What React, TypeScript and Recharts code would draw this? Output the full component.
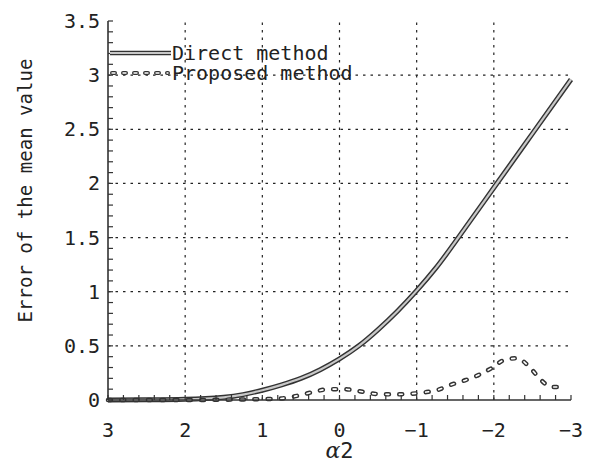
import React from 'react';
import { LineChart, Line, XAxis, YAxis, ReferenceLine, Legend } from 'recharts';

const xMajorTicks = [3, 2, 1, 0, -1, -2, -3];
const yMajorTicks = [0, 0.5, 1, 1.5, 2, 2.5, 3, 3.5];
const xGridValues = [2, 1, 0, -1, -2];
const yGridValues = [0.5, 1, 1.5, 2, 2.5, 3];
const xMinorTicks = Array.from({ length: 31 }, (_, i) => Math.round((-3 + i * 0.2) * 10) / 10);
const yMinorTicks = Array.from({ length: 36 }, (_, i) => i / 10);

const seriesNames = ['Direct method', 'Proposed method'];

const directX = [3, 2.5, 2, 1.5, 1.25, 1, 0.75, 0.5, 0.25, 0, -0.25, -0.5, -0.75, -1, -1.25, -1.5, -2, -2.5, -3];
const directY = [0, 0.002, 0.006, 0.025, 0.05, 0.09, 0.14, 0.2, 0.28, 0.38, 0.5, 0.65, 0.82, 1.01, 1.22, 1.46, 1.96, 2.46, 2.96];

const proposedX = [3, 2.5, 2, 1.5, 1.15, 0.97, 0.8, 0.64, 0.48, 0.31, 0.13, -0.05, -0.23, -0.42, -0.6, -0.75, -0.92, -1.09, -1.26, -1.44, -1.64, -1.8, -1.96, -2.14, -2.3, -2.48, -2.61, -2.75, -2.94];
const proposedY = [0, 0, 0, 0.003, 0.006, 0.008, 0.012, 0.025, 0.05, 0.08, 0.1, 0.1, 0.085, 0.06, 0.052, 0.052, 0.057, 0.07, 0.09, 0.14, 0.185, 0.23, 0.29, 0.37, 0.385, 0.29, 0.185, 0.12, 0.12];

const directData = directX.map((a, i) => ({ a, v: directY[i] }));
const proposedData = proposedX.map((a, i) => ({ a, v: proposedY[i] }));

const FONT = '"DejaVu Sans Mono", monospace';
const INK = '#222';
const FRAME = '#333';
const GRID_DASH = '2.5 5';
const PROPOSED_DASH = '3 10.3';

const isIn = (arr: number[], v: number) => arr.some((m) => Math.abs(m - v) < 1e-6);
const fmtX = (v: number) => (v < 0 ? '\u2212' + Math.abs(v) : String(v));

const BottomTick = (props: any) => {
  const { x, y, payload } = props;
  const v = payload.value;
  return (
    <g>
      <line x1={x} y1={y} x2={x} y2={y - 5} stroke={FRAME} strokeWidth={1.2} />
      {isIn(xMajorTicks, v) && (
        <text x={x} y={y + 37} textAnchor="middle" fontFamily={FONT} fontSize={20} fill={INK}>
          {fmtX(v)}
        </text>
      )}
    </g>
  );
};

const TopTick = (props: any) => {
  const { x, y } = props;
  return <line x1={x} y1={y} x2={x} y2={y + 5} stroke={FRAME} strokeWidth={1.2} />;
};

const LeftTick = (props: any) => {
  const { x, y, payload } = props;
  const v = payload.value;
  return (
    <g>
      <line x1={x} y1={y} x2={x + 5} y2={y} stroke={FRAME} strokeWidth={1.2} />
      {isIn(yMajorTicks, v) && (
        <text x={x - 8} y={y + 7} textAnchor="end" fontFamily={FONT} fontSize={20} fill={INK}>
          {String(v)}
        </text>
      )}
    </g>
  );
};

const RightTick = (props: any) => {
  const { x, y } = props;
  return <line x1={x} y1={y} x2={x - 5} y2={y} stroke={FRAME} strokeWidth={1.2} />;
};

const YLabel = (props: any) => {
  const vb = props.viewBox || { x: 0, y: 21, width: 108, height: 379 };
  const cx = vb.x + 25;
  const cy = vb.y + vb.height / 2 - 20;
  return (
    <text
      x={cx}
      y={cy}
      transform={`rotate(-90 ${cx} ${cy})`}
      textAnchor="middle"
      dominantBaseline="central"
      fontFamily={FONT}
      fontSize={20}
      fill={INK}
      textLength={264}
      lengthAdjust="spacingAndGlyphs"
    >
      Error of the mean value
    </text>
  );
};

const XLabel = (props: any) => {
  const vb = props.viewBox || { x: 108, y: 400, width: 463, height: 70 };
  const cx = vb.x + vb.width / 2;
  const by = vb.y + 58;
  return (
    <text x={cx} y={by} textAnchor="middle" fontSize={22} fill={INK}>
      <tspan fontFamily='"DejaVu Serif", serif' fontStyle="italic">α</tspan>
      <tspan fontFamily={FONT}>2</tspan>
    </text>
  );
};

const LegendContent = (props: any) => {
  const items = (props.payload || []).filter((p: any) => p.type !== 'none');
  return (
    <svg width={270} height={46} style={{ display: 'block', overflow: 'visible' }}>
      {items.map((it: any, i: number) => {
        const cy = 13 + i * 20;
        const dashed = i === 1;
        return (
          <g key={i}>
            {dashed ? (
              <>
                <line x1={4} y1={cy} x2={60} y2={cy} stroke={FRAME} strokeWidth={4} strokeDasharray="3 8" strokeLinecap="round" />
                <line x1={4} y1={cy} x2={60} y2={cy} stroke="#fff" strokeWidth={1.4} strokeDasharray="3 8" strokeLinecap="round" />
              </>
            ) : (
              <>
                <line x1={2} y1={cy} x2={63} y2={cy} stroke={FRAME} strokeWidth={4.5} />
                <line x1={2} y1={cy} x2={63} y2={cy} stroke="#c8c8c8" strokeWidth={2} />
              </>
            )}
            <text x={64} y={cy + 7} fontFamily={FONT} fontSize={20} fill={INK}>
              {it.value}
            </text>
          </g>
        );
      })}
    </svg>
  );
};

export default function App() {
  return (
    <div style={{ position: 'absolute', left: 0, top: 0, width: 589, height: 470, background: '#fff' }}>
      <LineChart width={589} height={470} margin={{ top: 21, right: 18, left: 0, bottom: 0 }}>
        <XAxis
          xAxisId={0}
          dataKey="a"
          type="number"
          domain={[-3, 3]}
          reversed
          ticks={xMinorTicks}
          interval={0}
          tickSize={0}
          tickMargin={0}
          tickLine={false}
          tick={<BottomTick />}
          axisLine={{ stroke: FRAME, strokeWidth: 1.6 }}
          height={70}
          label={<XLabel />}
        />
        <XAxis
          xAxisId="top"
          orientation="top"
          dataKey="a"
          type="number"
          domain={[-3, 3]}
          reversed
          ticks={xMinorTicks}
          interval={0}
          tickSize={0}
          tickMargin={0}
          tickLine={false}
          tick={<TopTick />}
          axisLine={{ stroke: FRAME, strokeWidth: 1.6 }}
          height={0}
        />
        <YAxis
          yAxisId={0}
          type="number"
          domain={[0, 3.5]}
          ticks={yMinorTicks}
          interval={0}
          tickSize={0}
          tickMargin={0}
          tickLine={false}
          tick={<LeftTick />}
          axisLine={{ stroke: FRAME, strokeWidth: 1.6 }}
          width={108}
          label={<YLabel />}
        />
        <YAxis
          yAxisId="right"
          orientation="right"
          type="number"
          domain={[0, 3.5]}
          ticks={yMinorTicks}
          interval={0}
          tickSize={0}
          tickMargin={0}
          tickLine={false}
          tick={<RightTick />}
          axisLine={{ stroke: FRAME, strokeWidth: 1.6 }}
          width={0}
        />
        {xGridValues.map((v) => (
          <ReferenceLine key={'gx' + v} x={v} xAxisId={0} yAxisId={0} stroke={INK} strokeWidth={1.2} strokeDasharray={GRID_DASH} />
        ))}
        {yGridValues.map((v) => (
          <ReferenceLine key={'gy' + v} y={v} xAxisId={0} yAxisId={0} stroke={INK} strokeWidth={1.2} strokeDasharray={GRID_DASH} />
        ))}
        <Legend
          content={<LegendContent />}
          layout="horizontal"
          verticalAlign="middle"
          align="center"
          wrapperStyle={{ position: 'absolute', top: 40, left: 108, width: 270, height: 46 }}
        />
        <Line
          data={directData}
          dataKey="v"
          name={seriesNames[0]}
          type="natural"
          stroke={FRAME}
          strokeWidth={5}
          dot={false}
          activeDot={false}
          isAnimationActive={false}
          xAxisId={0}
          yAxisId={0}
        />
        <Line
          data={directData}
          dataKey="v"
          name="direct-inner"
          legendType="none"
          type="natural"
          stroke="#c8c8c8"
          strokeWidth={2.2}
          dot={false}
          activeDot={false}
          isAnimationActive={false}
          xAxisId={0}
          yAxisId={0}
        />
        <Line
          data={proposedData}
          dataKey="v"
          name={seriesNames[1]}
          type="monotone"
          stroke={FRAME}
          strokeWidth={4.5}
          strokeDasharray={PROPOSED_DASH}
          strokeLinecap="round"
          dot={false}
          activeDot={false}
          isAnimationActive={false}
          xAxisId={0}
          yAxisId={0}
        />
        <Line
          data={proposedData}
          dataKey="v"
          name="proposed-inner"
          legendType="none"
          type="monotone"
          stroke="#ffffff"
          strokeWidth={1.6}
          strokeDasharray={PROPOSED_DASH}
          strokeLinecap="round"
          dot={false}
          activeDot={false}
          isAnimationActive={false}
          xAxisId={0}
          yAxisId={0}
        />
      </LineChart>
    </div>
  );
}
